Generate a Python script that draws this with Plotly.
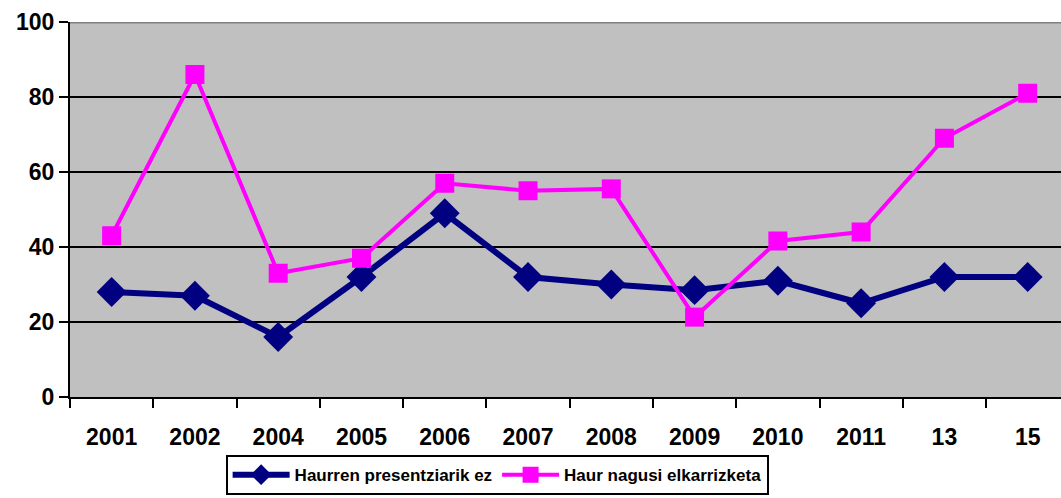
import plotly.graph_objects as go

categories = ["2001", "2002", "2004", "2005", "2006", "2007", "2008", "2009", "2010", "2011", "13", "15"]
haurren_presentziarik_ez = [28, 27, 16, 32, 49, 32, 30, 28.5, 31, 25, 32, 32]
haur_nagusi_elkarrizketa = [43, 86, 33, 37, 57, 55, 55.5, 21.3, 41.6, 44, 69, 81]
y_ticks = [0, 20, 40, 60, 80, 100]

fig = go.Figure()
fig.add_trace(go.Scatter(
    x=categories, y=haurren_presentziarik_ez, name="Haurren presentziarik ez",
    mode="lines+markers",
    line=dict(color="#000080", width=6),
    marker=dict(symbol="diamond", size=23, color="#000080"),
))
fig.add_trace(go.Scatter(
    x=categories, y=haur_nagusi_elkarrizketa, name="Haur nagusi elkarrizketa",
    mode="lines+markers",
    line=dict(color="#FF00FF", width=4),
    marker=dict(symbol="square", size=19, color="#FF00FF"),
))

fam = "Liberation Sans, Arial, sans-serif"
fig.update_layout(
    width=1061, height=498,
    margin=dict(l=70, r=0, t=22, b=101, autoexpand=False),
    paper_bgcolor="white", plot_bgcolor="#C0C0C0",
    font=dict(family=fam, size=18, color="black"),
    showlegend=True,
    legend=dict(
        orientation="h", x=0.431, xanchor="center", y=-0.155, yanchor="top",
        bgcolor="white", bordercolor="black", borderwidth=2,
        font=dict(family=fam, size=17, color="black", weight="bold"),
        tracegroupgap=0, itemwidth=57,
    ),
    xaxis=dict(
        type="category", range=[-0.5, 11.4], tickson="boundaries",
        ticks="outside", ticklen=9, tickwidth=2, tickcolor="black",
        showline=True, linecolor="black", linewidth=2,
        showgrid=False, ticklabelstandoff=18, automargin=False,
        tickfont=dict(family=fam, size=23, weight="bold", color="black"),
    ),
    yaxis=dict(
        range=[0, 100], tickvals=y_ticks,
        ticks="outside", ticklen=9, tickwidth=2, tickcolor="black",
        showline=True, linecolor="black", linewidth=2,
        showgrid=True, gridcolor="black", gridwidth=2,
        zeroline=False, automargin=False,
        tickfont=dict(family=fam, size=23, weight="bold", color="black"),
    ),
)
fig.add_shape(type="line", xref="paper", yref="y", x0=0, x1=1, y0=100, y1=100,
              line=dict(color="#808080", width=3))
fig.write_html("out.html", config={"displayModeBar": False},
               post_script="document.body.style.margin='0';document.body.style.overflow='hidden';")
